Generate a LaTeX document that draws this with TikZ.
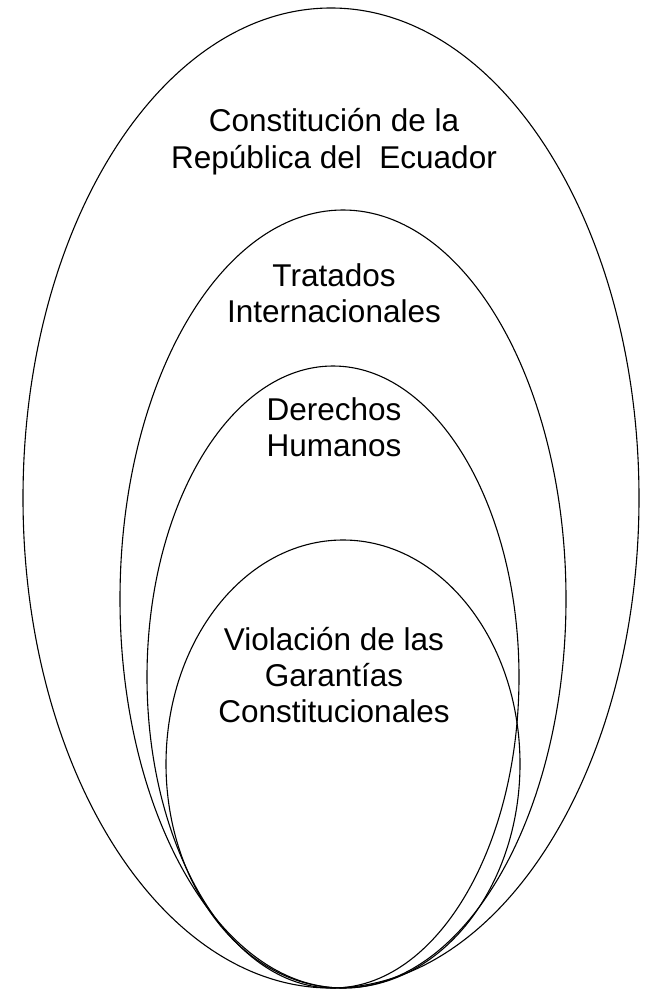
\documentclass[tikz,border=0pt]{standalone}
\usepackage{fontspec}
\setmainfont{Liberation Sans}
\begin{document}
\begin{tikzpicture}[x=1pt,y=-1pt,
  ring/.style={draw=black,line width=1.1pt},
  lbl/.style={anchor=base,inner sep=0pt,font=\fontsize{31.5}{36}\selectfont}]
\useasboundingbox (0,0) rectangle (654,995);
\draw[ring] (331,498) ellipse [x radius=308pt, y radius=490pt];
\draw[ring] (343,599) ellipse [x radius=223pt, y radius=389pt];
\draw[ring] (333,677) ellipse [x radius=186pt, y radius=311pt];
\draw[ring] (343,764) ellipse [x radius=177pt, y radius=224pt];
\node[lbl] (c) at (334,132) {\begin{tabular}[t]{@{}c@{}}Constitución de la\\República del\ \ Ecuador\end{tabular}};
\node[lbl] (t) at (334,286) {\begin{tabular}[t]{@{}c@{}}Tratados\\Internacionales\end{tabular}};
\node[lbl] (d) at (334,420) {\begin{tabular}[t]{@{}c@{}}Derechos\\Humanos\end{tabular}};
\node[lbl] (v) at (334,650) {\begin{tabular}[t]{@{}c@{}}Violación de las\\Garantías\\Constitucionales\end{tabular}};
\end{tikzpicture}
\end{document}
